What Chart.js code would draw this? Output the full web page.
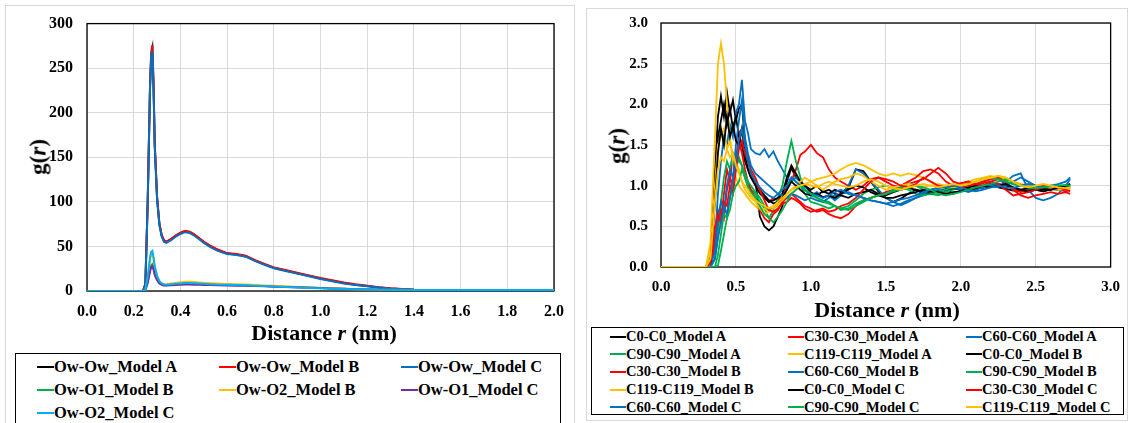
<!DOCTYPE html>
<html>
<head>
<meta charset="utf-8">
<script src="https://cdn.jsdelivr.net/npm/chart.js@4.4.1/dist/chart.umd.min.js"></script>
<style>
  body { margin:0; width:1131px; height:423px; overflow:hidden; background:#fff; position:relative;
         font-family:'Liberation Serif', 'Times New Roman', serif; color:#000; }
  .panel { position:absolute; border:1px solid #d9d9d9; box-sizing:border-box; }
  canvas { position:absolute; }
  .ttl { position:absolute; font-weight:bold; white-space:nowrap; line-height:1; }
  .legend { position:absolute; border:1px solid #000; box-sizing:border-box; font-weight:bold; display:grid; background:#fff; }
  .item { display:flex; align-items:center; white-space:nowrap; }
  .item .sw { display:inline-block; height:2px; flex:none; }
</style>
</head>
<body>

<div class="panel" style="left:5px; top:5px; width:570px; height:440px;"></div>
<div class="panel" style="left:586px; top:8px; width:542px; height:413px;"></div>

<canvas id="left-chart" width="575" height="345" style="left:0; top:0;"></canvas>
<canvas id="right-chart" width="545" height="320" style="left:586px; top:0;"></canvas>

<div class="ttl" style="left:38px; top:157px; font-size:23px; transform:translate(-50%,-50%) rotate(-90deg);">g(<i>r</i>)</div>
<div class="ttl" style="left:324px; top:333px; font-size:22px; transform:translate(-50%,-50%);">Distance <i>r</i> (nm)</div>
<div class="ttl" style="left:617px; top:146px; font-size:23px; transform:translate(-50%,-50%) rotate(-90deg);">g(<i>r</i>)</div>
<div class="ttl" style="left:887px; top:310px; font-size:22px; transform:translate(-50%,-50%);">Distance <i>r</i> (nm)</div>

<div id="left-legend" class="legend" style="left:15px; top:353px; width:546px; height:90px; font-size:16.5px;
     grid-template-columns:repeat(3, 182px); grid-auto-rows:23px; padding:1px 0 0 21px;"></div>
<div id="right-legend" class="legend" style="left:591px; top:327px; width:533px; height:88px; font-size:14.5px;
     grid-template-columns:repeat(3, 178px); grid-auto-rows:17.6px; padding:0 0 0 18px;"></div>

<script>
// ===== left panel: water oxygen RDFs =====
const rLeft = [0, 0.24, 0.25, 0.26, 0.27, 0.275, 0.28, 0.285, 0.29, 0.30, 0.31, 0.32, 0.33, 0.34, 0.36,
  0.38, 0.40, 0.42, 0.44, 0.46, 0.48, 0.50, 0.53, 0.56, 0.60, 0.64, 0.68, 0.72, 0.76, 0.80,
  0.85, 0.90, 0.95, 1.00, 1.05, 1.10, 1.15, 1.20, 1.25, 1.30, 1.40, 1.50, 1.60, 1.80, 2.00];

const owOwA = [0, 0, 8, 100, 230, 265, 272, 230, 165, 105, 75, 62, 56, 55, 58,
  62, 65, 67, 66, 63, 59, 55, 50, 46, 42, 41, 39, 34, 30, 26,
  23, 20, 17, 14, 11.5, 9, 7, 5.5, 4, 2.8, 1.4, 1.1, 1.0, 1.0, 1.0];
const owOwB = [0, 0, 8, 102, 233, 268, 276, 233, 167, 106, 76, 63, 57, 55.5, 58.5,
  62.5, 65.5, 67.5, 66.5, 63.5, 59.5, 55.5, 50.5, 46.5, 42.5, 41.5, 39.5, 34.5, 30.5, 26.5,
  23.5, 20.5, 17.5, 14.5, 12, 9.5, 7.5, 6, 4.3, 3, 1.5, 1.1, 1.0, 1.0, 1.0];
const owOwC = [0, 0, 7, 98, 226, 262, 270, 227, 162, 103, 74, 61, 55, 54, 57,
  61, 64, 66, 65, 62, 58, 54, 49, 45, 41.5, 40.5, 38.5, 33.5, 29.5, 25.5,
  22.5, 19.5, 16.5, 13.5, 11, 8.5, 6.8, 5.2, 3.8, 2.6, 1.3, 1.0, 1.0, 1.0, 1.0];
const owO1B = [0, 0, 1, 10, 24, 29, 30, 26, 20, 13, 9, 7.5, 6.5, 6.5, 7,
  7.5, 8, 8.5, 8.5, 8.2, 8, 7.8, 7.5, 7.2, 6.8, 6.6, 6.3, 6, 5.7, 5.3,
  4.8, 4.3, 3.8, 3.3, 2.8, 2.4, 2.0, 1.7, 1.5, 1.3, 1.1, 1.0, 1.0, 1.0, 1.0];
const owO2B = [0, 0, 1, 14, 34, 41, 42, 36, 27, 17, 11, 8.5, 7.5, 7.5, 8.3,
  9, 9.8, 10.5, 10.3, 10, 9.6, 9.2, 8.7, 8.3, 7.8, 7.5, 7.2, 6.8, 6.3, 5.8,
  5.2, 4.6, 4, 3.5, 3, 2.5, 2.1, 1.8, 1.5, 1.3, 1.1, 1.0, 1.0, 1.0, 1.0];
const owO1C = [0, 0, 1, 9, 22, 27, 28, 24, 18, 12, 8.5, 7, 6.3, 6.2, 6.5,
  6.8, 7.1, 7.3, 7.3, 7.1, 7, 6.8, 6.6, 6.4, 6.2, 6, 5.8, 5.5, 5.2, 4.9,
  4.5, 4.1, 3.7, 3.3, 2.9, 2.5, 2.1, 1.8, 1.6, 1.4, 1.1, 1.0, 1.0, 1.0, 1.0];
const owO2C = [0, 0, 1, 16, 38, 44, 45, 38, 28, 17, 11, 8.5, 7.3, 7, 7.5,
  8, 8.5, 9, 9, 8.7, 8.4, 8.1, 7.7, 7.3, 7, 6.7, 6.4, 6, 5.5, 5,
  4.5, 4, 3.5, 3, 2.6, 2.2, 1.9, 1.6, 1.4, 1.2, 1.05, 1.0, 1.0, 1.0, 1.0];

const leftNames  = ['Ow-Ow_Model A', 'Ow-Ow_Model B', 'Ow-Ow_Model C', 'Ow-O1_Model B',
                    'Ow-O2_Model B', 'Ow-O1_Model C', 'Ow-O2_Model C'];
const leftValues = [owOwA, owOwB, owOwC, owO1B, owO2B, owO1C, owO2C];
const leftColors = ['#000000', '#ff0000', '#0070c0', '#00b050', '#ffc000', '#7030a0', '#00b0f0'];

// ===== right panel: carbon-carbon RDFs =====
const rRight = [0, 0.30, 0.33, 0.36, 0.38,
  0.40, 0.42, 0.44, 0.46, 0.48, 0.50, 0.52, 0.54, 0.56, 0.58, 0.60,
  0.63, 0.66, 0.69, 0.72, 0.75, 0.78, 0.81, 0.84, 0.87, 0.90, 0.93, 0.96,
  1.00, 1.04, 1.08, 1.12, 1.16, 1.20,
  1.25, 1.30, 1.35, 1.40, 1.45, 1.50, 1.55, 1.60, 1.65, 1.70, 1.75, 1.80, 1.85, 1.90, 1.95,
  2.00, 2.05, 2.10, 2.15, 2.20, 2.25, 2.30, 2.35, 2.40, 2.45, 2.50, 2.55, 2.60, 2.65, 2.70, 2.73];

const c0A = [0, 0, 0.05, 1.2, 1.85,
  2.1, 1.85, 2.15, 1.9, 2.05, 1.8, 1.95, 2.0, 1.55, 1.35, 1.15,
  1.05, 0.62, 0.5, 0.45, 0.5, 0.62, 0.75, 1.05, 1.22, 1.1, 1.05, 1.0,
  0.92, 0.88, 0.93, 0.9, 0.95, 0.92,
  0.97, 1.2, 1.18, 1.05, 0.93, 0.85, 0.8, 0.84, 0.9, 0.95, 0.9, 0.94, 0.92, 0.96, 0.9,
  0.94, 0.97, 0.95, 1.0, 1.02, 0.98, 0.96, 0.94, 0.95, 0.92, 0.95, 0.93, 0.96, 0.95, 0.98, 1.0];
const c30A = [0, 0, 0, 0.4, 0.7,
  0.6, 0.9, 1.2, 1.05, 1.4, 1.3, 1.65, 1.7, 1.45, 1.35, 1.2,
  1.1, 0.95, 0.85, 0.8, 0.85, 0.82, 0.9, 1.0, 1.05, 1.2, 1.38, 1.42,
  1.5, 1.4, 1.35, 1.2, 1.1, 1.05,
  1.0, 0.95, 1.0, 1.08, 1.1, 1.05, 1.0, 0.98, 1.02, 1.05, 1.08, 1.15, 1.22, 1.15, 1.05,
  1.02, 1.05, 1.0, 1.03, 1.05, 1.08, 1.02, 0.95, 0.92, 0.95, 0.97, 1.0, 0.98, 0.95, 0.93, 0.95];
const c60A = [0, 0, 0, 0.3, 0.9,
  1.3, 1.6, 1.5, 1.75, 1.6, 1.9, 2.0, 2.3, 1.8, 1.65, 1.45,
  1.4, 1.38, 1.45, 1.35, 1.42, 1.3, 1.2, 1.1, 1.05, 1.1, 1.05, 0.95,
  0.88, 0.92, 0.85, 0.88, 0.82, 0.88,
  1.0, 1.2, 1.15, 1.05, 0.95, 0.85, 0.8, 0.76, 0.8, 0.85, 0.88, 0.92, 0.95, 0.93, 0.97,
  1.0, 0.95, 0.98, 0.97, 1.0, 0.98, 1.05, 1.12, 1.15, 0.95, 0.85, 0.82, 0.85, 0.9, 1.0, 1.08];
const c90A = [0, 0, 0, 0.1, 0.4,
  0.8, 1.1, 1.3, 1.2, 1.4, 1.35, 1.3, 1.25, 1.1, 1.0, 0.95,
  0.9, 0.8, 0.72, 0.6, 0.7, 0.85, 1.0, 1.3, 1.55, 1.3, 1.1, 0.95,
  0.88, 0.85, 0.82, 0.8, 0.75, 0.72,
  0.75, 0.82, 0.9, 0.95, 0.98, 1.0, 0.97, 1.0, 1.03, 1.0, 0.95, 0.9, 0.88, 0.92, 0.95,
  0.98, 1.0, 1.02, 1.05, 1.08, 1.1, 1.05, 1.02, 1.0, 0.98, 0.97, 0.98, 1.0, 0.99, 1.0, 1.01];
const c119A = [0, 0, 0.3, 1.6, 2.5,
  2.75, 2.5, 2.0, 1.6, 1.3, 1.1, 1.0, 0.95, 0.9, 0.85, 0.8,
  0.75, 0.7, 0.72, 0.68, 0.72, 0.75, 0.8, 0.85, 0.9, 0.95, 1.0, 1.02,
  1.05, 1.08, 1.1, 1.12, 1.15, 1.2,
  1.25, 1.28, 1.25, 1.2, 1.15, 1.12, 1.15, 1.12, 1.15, 1.13, 1.1, 1.05, 1.0, 0.98, 1.0,
  1.02, 1.05, 1.08, 1.1, 1.12, 1.1, 1.08, 1.05, 1.02, 1.0, 0.98, 0.97, 0.96, 0.95, 0.96, 0.95];
const c0B = [0, 0, 0.1, 1.0, 1.6,
  1.8, 2.0, 1.75, 1.95, 1.7, 1.85, 1.6, 1.5, 1.3, 1.2, 1.1,
  1.0, 0.9, 0.85, 0.8, 0.82, 0.85, 0.9, 1.1, 1.25, 1.15, 1.05, 1.0,
  0.95, 1.0, 0.92, 0.95, 0.9, 0.88,
  0.85, 0.9, 0.92, 0.95, 0.9, 0.88, 0.92, 0.95, 0.97, 0.95, 0.93, 0.9, 0.93, 0.95, 0.97,
  0.95, 0.98, 1.0, 0.98, 1.0, 1.02, 1.0, 0.98, 0.95, 0.97, 0.95, 0.93, 0.95, 0.97, 0.98, 0.97];
const c30B = [0, 0, 0, 0.3, 0.55,
  0.7, 0.6, 0.95, 1.1, 1.0, 1.3, 1.55, 1.4, 1.2, 1.05, 0.95,
  0.85, 0.7, 0.6, 0.55, 0.65, 0.7, 0.8, 0.85, 0.9, 0.85, 0.8, 0.75,
  0.72, 0.68, 0.7, 0.65, 0.62, 0.6,
  0.65, 0.75, 0.82, 0.85, 0.88, 0.92, 0.95, 1.0, 1.05, 1.1, 1.18, 1.2, 1.15, 1.05, 1.0,
  0.98, 1.0, 1.02, 1.05, 1.08, 1.1, 1.05, 0.95, 0.88, 0.85, 0.88, 0.9, 0.92, 0.9, 0.92, 0.9];
const c60B = [0, 0, 0, 0.2, 0.6,
  0.8, 0.7, 1.0, 1.2, 1.1, 1.5, 1.8, 2.05, 1.6, 1.4, 1.25,
  1.15, 1.1, 1.05, 1.0, 0.95, 0.9, 0.88, 0.85, 0.9, 0.88, 0.85, 0.82,
  0.85, 0.82, 0.8, 0.85, 0.88, 0.9,
  0.92, 0.88, 0.85, 0.82, 0.8, 0.78, 0.75, 0.78, 0.82, 0.85, 0.9, 0.95, 0.98, 1.0, 0.98,
  0.95, 0.92, 0.95, 0.98, 1.0, 1.02, 1.0, 1.05, 1.1, 1.05, 1.0, 0.98, 0.95, 0.97, 1.0, 1.02];
const c90B = [0, 0, 0, 0, 0.15,
  0.4, 0.65, 0.6, 0.85, 1.0, 1.2, 1.35, 1.25, 1.15, 1.05, 1.0,
  0.92, 0.85, 0.75, 0.7, 0.72, 0.78, 0.85, 0.95, 1.1, 1.05, 1.0, 0.9,
  0.8, 0.78, 0.75, 0.72, 0.75, 0.7,
  0.72, 0.78, 0.82, 0.85, 0.88, 0.9, 0.95, 0.98, 0.95, 0.9, 0.88, 0.9, 0.93, 0.95, 0.98,
  1.0, 1.02, 1.05, 1.08, 1.1, 1.08, 1.05, 1.02, 1.0, 0.98, 0.95, 0.97, 0.98, 1.0, 1.0, 1.0];
const c119B = [0, 0, 0.2, 1.0, 1.5,
  1.6, 1.7, 1.45, 1.55, 1.35, 1.3, 1.2, 1.05, 0.95, 0.9, 0.85,
  0.8, 0.72, 0.65, 0.68, 0.72, 0.78, 0.82, 0.88, 0.95, 1.0, 1.05, 1.1,
  1.05, 1.0, 0.95, 1.0, 1.05, 1.08,
  1.1, 1.15, 1.12, 1.05, 1.0, 0.95, 0.98, 1.0, 1.02, 1.0, 0.98, 1.0, 1.02, 1.0, 0.98,
  1.0, 1.02, 1.05, 1.08, 1.1, 1.12, 1.1, 1.05, 1.02, 1.0, 0.98, 0.97, 0.98, 0.97, 0.96, 0.97];
const c0C = [0, 0, 0.05, 0.8, 1.4,
  1.7, 1.5, 1.85, 1.6, 1.75, 1.55, 1.5, 1.7, 1.4, 1.2, 1.1,
  1.05, 0.95, 0.88, 0.82, 0.78, 0.8, 0.85, 0.95, 1.05, 1.0, 0.95, 0.9,
  0.88, 0.9, 0.86, 0.88, 0.85, 0.9,
  0.95, 1.0, 0.98, 0.92, 0.88, 0.85, 0.85, 0.88, 0.9, 0.92, 0.95, 0.93, 0.92, 0.9, 0.92,
  0.93, 0.95, 0.97, 1.0, 0.98, 1.0, 1.02, 0.98, 0.95, 0.93, 0.95, 0.96, 0.95, 0.98, 1.0, 1.02];
const c30C = [0, 0, 0.05, 0.5, 0.65,
  0.55, 0.8, 0.75, 1.0, 0.9, 1.2, 1.45, 1.55, 1.4, 1.3, 1.15,
  1.05, 0.95, 0.82, 0.7, 0.68, 0.72, 0.78, 0.8, 0.85, 0.82, 0.78, 0.72,
  0.68, 0.7, 0.72, 0.68, 0.7, 0.75,
  0.78, 0.85, 0.95, 1.05, 1.1, 1.08, 1.05, 1.0, 0.98, 1.02, 1.1, 1.05, 1.0, 0.98, 1.0,
  1.03, 1.05, 1.02, 1.0, 1.05, 1.02, 0.95, 0.88, 0.9, 0.92, 0.95, 0.98, 1.0, 0.98, 0.95, 0.93];
const c60C = [0, 0, 0, 0.1, 0.35,
  0.55, 0.75, 0.65, 0.85, 1.1, 1.3, 1.55, 1.7, 1.5, 1.3, 1.15,
  1.05, 0.98, 0.92, 0.88, 0.85, 0.9, 0.95, 1.0, 1.1, 1.05, 1.0, 0.95,
  0.9, 0.88, 0.85, 0.88, 0.92, 0.95,
  0.9, 0.88, 0.85, 0.82, 0.8, 0.78, 0.8, 0.83, 0.85, 0.88, 0.92, 0.95, 0.97, 0.98, 1.0,
  0.98, 0.95, 0.93, 0.95, 0.98, 1.0, 0.98, 0.97, 1.0, 1.02, 1.0, 0.98, 1.0, 1.02, 1.05, 1.1];
const c90C = [0, 0, 0, 0, 0.02,
  0.2, 0.4, 0.6, 0.7, 0.9, 1.0, 1.05, 1.2, 1.1, 0.98, 0.92,
  0.85, 0.75, 0.65, 0.6, 0.55, 0.62, 0.7, 0.8, 0.9, 0.95, 1.0, 0.95,
  0.9, 0.85, 0.8, 0.78, 0.75, 0.72,
  0.7, 0.75, 0.8, 0.85, 0.88, 0.9, 0.93, 0.95, 0.97, 1.0, 0.98, 0.95, 0.9, 0.88, 0.9,
  0.92, 0.95, 0.98, 1.0, 1.02, 1.05, 1.08, 1.05, 1.0, 0.98, 0.97, 0.98, 0.99, 1.0, 1.01, 1.0];
const c119C = [0, 0, 0.1, 0.8, 1.2,
  1.35, 1.3, 1.45, 1.35, 1.4, 1.25, 1.15, 1.05, 1.0, 0.95, 0.88,
  0.82, 0.78, 0.75, 0.72, 0.75, 0.8, 0.85, 0.9, 0.95, 0.98, 1.0, 1.02,
  1.0, 0.98, 1.02, 1.05, 1.02, 1.0,
  0.98, 1.0, 1.05, 1.08, 1.05, 1.0, 0.97, 0.95, 0.98, 1.0, 1.02, 1.0, 0.98, 1.0, 1.02,
  1.0, 1.02, 1.05, 1.08, 1.1, 1.12, 1.1, 1.05, 1.0, 0.98, 1.0, 1.02, 1.0, 0.98, 0.97, 0.98];

const rightNames = ['C0-C0_Model A', 'C30-C30_Model A', 'C60-C60_Model A', 'C90-C90_Model A', 'C119-C119_Model A',
                    'C0-C0_Model B', 'C30-C30_Model B', 'C60-C60_Model B', 'C90-C90_Model B', 'C119-C119_Model B',
                    'C0-C0_Model C', 'C30-C30_Model C', 'C60-C60_Model C', 'C90-C90_Model C', 'C119-C119_Model C'];
const rightValues = [c0A, c30A, c60A, c90A, c119A, c0B, c30B, c60B, c90B, c119B, c0C, c30C, c60C, c90C, c119C];
const rightColors = ['#000000', '#ff0000', '#0070c0', '#00b050', '#ffc000'];

Chart.defaults.font.family = 'Liberation Serif';
Chart.defaults.font.weight = 'bold';
Chart.defaults.color = '#000';

// black frame round the plot area, under the curves
const framePlugin = {
  id: 'frame',
  beforeDatasetsDraw: function(chart) {
    const a = chart.chartArea;
    const ctx = chart.ctx;
    ctx.save();
    ctx.strokeStyle = '#000';
    ctx.lineWidth = 1.3;
    ctx.strokeRect(a.left, a.top, a.right - a.left, a.bottom - a.top);
    ctx.restore();
  }
};

function buildDatasets(xs, names, values, colors, width) {
  return names.map(function(name, i) {
    return {
      label: name,
      data: values[i].map(function(v, j) { return { x: xs[j], y: v }; }),
      borderColor: colors[i % colors.length],
      borderWidth: width,
      pointRadius: 0,
      tension: 0,
      fill: false,
      order: -i   // later series drawn on top, as in the original
    };
  });
}

function makeChart(id, datasets, cfg) {
  const font = { family: 'Liberation Serif', size: cfg.fontSize, weight: 'bold' };
  return new Chart(document.getElementById(id).getContext('2d'), {
    type: 'line',
    data: { datasets: datasets },
    plugins: [framePlugin],
    options: {
      responsive: false,
      animation: false,
      devicePixelRatio: 1,
      events: [],
      layout: { padding: { top: cfg.padTop, right: cfg.padRight, left: 0, bottom: 0 } },
      plugins: { legend: { display: false }, tooltip: { enabled: false } },
      scales: {
        x: {
          type: 'linear', min: 0, max: cfg.xMax,
          ticks: { stepSize: cfg.xStep, font: font, color: '#000', padding: 11, maxRotation: 0, autoSkip: false,
                   callback: function(v) { return v.toFixed(1); } },
          grid: { color: '#d9d9d9', drawTicks: false },
          border: { display: false },
          afterFit: function(s) { s.height = cfg.xHeight; }
        },
        y: {
          min: 0, max: cfg.yMax,
          ticks: { stepSize: cfg.yStep, font: font, color: '#000', padding: cfg.yPad,
                   callback: function(v) { return v.toFixed(cfg.yDigits); } },
          grid: { color: '#d9d9d9', drawTicks: false },
          border: { display: false },
          afterFit: function(s) { s.width = cfg.yWidth; }
        }
      }
    }
  });
}

function buildLegend(id, chart, swatch) {
  const box = document.getElementById(id);
  box.innerHTML = chart.data.datasets.map(function(ds) {
    return `<div class="item"><span class="sw" style="width:${swatch}px;background:${ds.borderColor}"></span>${ds.label}</div>`;
  }).join('');
}

function drawAll() {
  const leftChart = makeChart('left-chart', buildDatasets(rLeft, leftNames, leftValues, leftColors, 2), {
    fontSize: 16, padTop: 21, padRight: 14, xMax: 2.0, xStep: 0.2, yMax: 300, yStep: 50,
    yDigits: 0, yPad: 14, xHeight: 54, yWidth: 87
  });
  const rightChart = makeChart('right-chart', buildDatasets(rRight, rightNames, rightValues, rightColors, 1.8), {
    fontSize: 15, padTop: 23, padRight: 19, xMax: 3.0, xStep: 0.5, yMax: 3.0, yStep: 0.5,
    yDigits: 1, yPad: 13, xHeight: 53, yWidth: 75
  });
  buildLegend('left-legend', leftChart, 17);
  buildLegend('right-legend', rightChart, 16);
}

// make sure the serif face is ready before the canvas text is drawn
document.fonts.load('bold 16px "Liberation Serif"').then(drawAll, drawAll);
</script>
</body>
</html>
